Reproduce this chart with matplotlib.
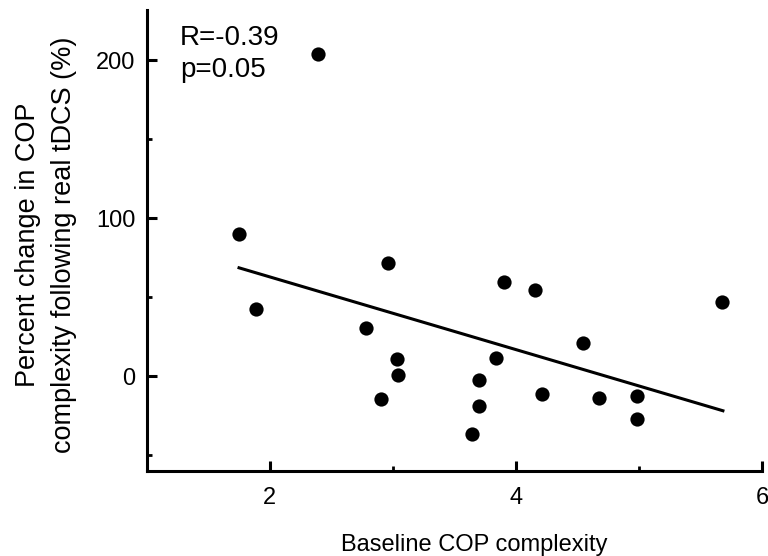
import matplotlib
matplotlib.use("Agg")
import matplotlib.pyplot as plt
from matplotlib.ticker import MultipleLocator

plt.rcParams['font.family'] = ['Liberation Sans', 'DejaVu Sans']

baseline = [1.75, 1.89, 2.39, 2.78, 2.96, 2.90, 3.03, 3.04, 3.64, 3.70,
            3.70, 3.84, 3.90, 4.15, 4.21, 4.54, 4.67, 4.98, 4.98, 5.67]
pct_change = [89.9, 42.4, 204.3, 30.5, 71.4, -14.6, 11.1, 0.9, -36.6, -2.7,
              -19.1, 11.7, 59.5, 54.3, -11.4, 21.2, -14.0, -12.5, -27.1, 46.8]
fit_x = [1.75, 5.68]
fit_y = [68.6, -22.0]
stats_text = "R=-0.39\np=0.05"

fig = plt.figure(figsize=(7.68, 5.56), dpi=100)
ax = fig.add_axes([0.191, 0.1534, 0.8016, 0.8286])

ax.scatter(baseline, pct_change, s=105, color='black', zorder=3, linewidths=0)
ax.plot(fit_x, fit_y, color='black', linewidth=2.2, zorder=2)

ax.set_xlim(1, 6)
ax.set_ylim(-60, 232)
ax.xaxis.set_major_locator(MultipleLocator(2))
ax.xaxis.set_minor_locator(MultipleLocator(1))
ax.yaxis.set_major_locator(MultipleLocator(100))
ax.yaxis.set_minor_locator(MultipleLocator(50))

for s in ['top', 'right']:
    ax.spines[s].set_visible(False)
for s in ['left', 'bottom']:
    ax.spines[s].set_linewidth(2.2)

ax.tick_params(which='major', direction='in', length=7, width=2.2, labelsize=17)
ax.tick_params(which='minor', direction='in', length=3.5, width=2)
ax.tick_params(axis='x', which='major', pad=12)
ax.tick_params(axis='y', which='major', pad=8)

ax.set_xlabel("Baseline COP complexity", fontsize=17)
ax.xaxis.set_label_coords(0.532, -0.138)
ax.set_ylabel("Percent change in COP\ncomplexity following real tDCS (%)", fontsize=19.5, linespacing=1.5)
ax.yaxis.set_label_coords(-0.114, 0.49)

ax.text(0.054, 0.968, stats_text, transform=ax.transAxes, fontsize=20,
        va='top', ha='left', linespacing=1.3)

fig.savefig("out.png", dpi=100)
